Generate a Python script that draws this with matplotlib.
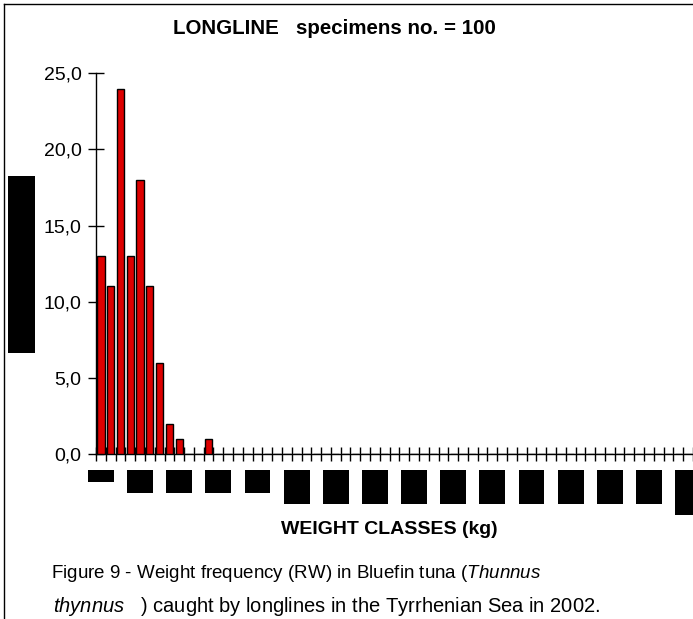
import matplotlib
matplotlib.use("Agg")
import matplotlib.pyplot as plt
import matplotlib.transforms as mtransforms
from matplotlib.patches import Rectangle
from matplotlib.lines import Line2D
import numpy as np

# Data (percent of specimens per weight class)
n_classes = 61
freq_head = [13, 11, 24, 13, 18, 11, 6, 2, 1, 0, 0, 1]
freq = np.array(freq_head + [0] * (n_classes - len(freq_head)), dtype=float)
classes = np.arange(n_classes)

y_ticks = [0, 5, 10, 15, 20, 25]
y_tick_labels = ["0,0", "5,0", "10,0", "15,0", "20,0", "25,0"]

# x tick labels are blacked out in the reference: one box every 4 classes
label_every = 4
label_box_px = [12, 23, 23, 23, 23, 34, 34, 34, 34, 34, 34, 34, 34, 34, 34, 45]

plt.rcParams["font.family"] = "Liberation Sans"
plt.rcParams["mathtext.fontset"] = "custom"
plt.rcParams["mathtext.rm"] = "Liberation Sans"
plt.rcParams["mathtext.it"] = "Liberation Sans:italic"

W, H = 693, 619
fig = plt.figure(figsize=(W / 100, H / 100), dpi=100)

x0_px, y0_px, ytop_px = 96, 454, 73.3
ax = fig.add_axes([x0_px / W, 1 - y0_px / H, 1 - x0_px / W, (y0_px - ytop_px) / H])

ax.bar(classes, freq, width=0.75, color="#DD0000", edgecolor="black", linewidth=1.0, zorder=3)

ax.set_ylim(0, 25)
ax.set_xlim(-0.5, -0.5 + (W - x0_px) / 9.8)

ax.set_yticks(y_ticks)
ax.set_yticklabels(y_tick_labels, fontsize=14)
ax.set_xticks(np.arange(-0.5, n_classes + 0.5, 1))
ax.set_xticklabels([])
ax.tick_params(axis="y", direction="inout", length=11, width=1, pad=5)
ax.tick_params(axis="x", direction="inout", length=9.5, width=1)

for side in ["top", "right"]:
    ax.spines[side].set_visible(False)
for side in ["left", "bottom"]:
    ax.spines[side].set_linewidth(1.0)

# Redacted x tick labels
trans = mtransforms.blended_transform_factory(ax.transData, fig.transFigure)
box_w = 26 / 9.8
for i, h in enumerate(label_box_px):
    xc = classes[i * label_every]
    ax.add_patch(Rectangle((xc - box_w / 2, 1 - (470 + h) / H), box_w, h / H,
                           transform=trans, facecolor="black", edgecolor="none",
                           clip_on=False))

# Redacted y axis label
fig.patches.append(Rectangle((8 / W, 1 - 353 / H), 27 / W, 177 / H,
                             transform=fig.transFigure, facecolor="black",
                             edgecolor="none"))

# Frame lines (left and top only visible)
fig.lines.append(Line2D([3.5 / W, 3.5 / W], [0, 1 - 4 / H], transform=fig.transFigure,
                        color="black", linewidth=1))
fig.lines.append(Line2D([3.5 / W, 1], [1 - 4 / H, 1 - 4 / H], transform=fig.transFigure,
                        color="black", linewidth=1))

fig.text(334 / W, 1 - 28 / H, "LONGLINE   specimens no. = 100", ha="center", va="center",
         fontsize=14.8, fontweight="bold")
fig.text(389 / W, 1 - 530 / H, "WEIGHT CLASSES (kg)", ha="center", va="center",
         fontsize=14, fontweight="bold")
fig.text(51 / W, 1 - 573 / H, r"Figure 9 - Weight frequency (RW) in Bluefin tuna ($\it{Thunnus}$",
         ha="left", va="center", fontsize=13.5)
fig.text(53 / W, 1 - 607 / H, r"$\it{thynnus}$   ) caught by longlines in the Tyrrhenian Sea in 2002.",
         ha="left", va="center", fontsize=14.5)

fig.savefig("out.png", dpi=100)
